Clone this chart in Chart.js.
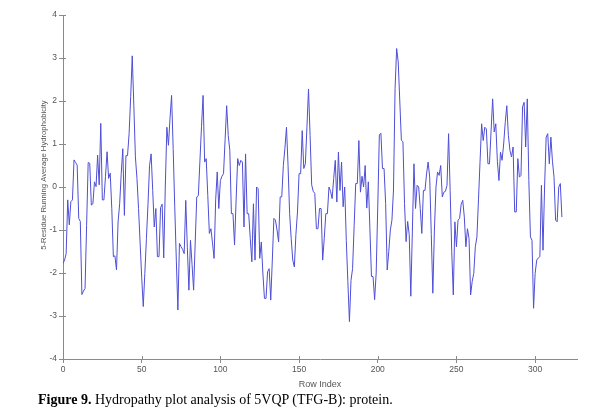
<!DOCTYPE html>
<html>
<head>
<meta charset="utf-8">
<script src="https://cdn.jsdelivr.net/npm/chart.js@4/dist/chart.umd.min.js"></script>
<style>
  body { margin: 0; background: #fff; }
  #wrap { position: relative; width: 605px; height: 418px; }
  #caption {
    position: absolute; left: 38px; top: 392px;
    font-family: "Liberation Serif", "Times New Roman", serif;
    font-size: 14px; line-height: 16px; color: #000; white-space: nowrap;
  }
</style>
</head>
<body>
<div id="wrap">
  <canvas id="hydro" width="605" height="418"></canvas>
  <div id="caption"><b>Figure 9.</b> Hydropathy plot analysis of 5VQP (TFG-B): protein.</div>
</div>
<script>
// data ======================================

// 5-residue running average, one value per row index (0..317)
const hydrophobicity = [
  -1.78, -1.70, -1.55, -0.30, -0.88, -0.34, -0.30, 0.63, 0.57, 0.51,
  -0.73, -0.80, -2.50, -2.42, -2.36, -0.90, 0.57, 0.55, -0.42, -0.39,
  0.12, 0.01, 0.74, 0.05, 1.48, -0.30, -0.30, 0.25, 0.82, 0.20,
  0.32, -0.50, -1.62, -1.60, -1.93, -0.81, -0.39, 0.31, 0.89, -0.66,
  0.73, 0.73, 1.24, 2.10, 3.05, 1.90, 0.70, 0.20, -0.50, -1.30,
  -2.10, -2.78, -2.01, -1.20, -0.40, 0.50, 0.77, -0.08, -0.93, -0.50,
  -1.62, -1.62, -0.48, -0.40, -1.65, 0.00, 1.39, 0.97, 1.60, 2.13,
  0.90, -0.46, -1.70, -2.86, -1.31, -1.39, -1.45, -1.55, -0.31, -1.40,
  -2.40, -1.24, -1.80, -2.40, -1.30, -0.23, -0.20, 0.60, 1.40, 2.13,
  0.58, 0.66, -0.20, -1.08, -0.97, -1.30, -1.66, -0.30, 0.35, -0.50,
  0.15, 0.25, 0.31, 1.10, 1.89, 1.20, 0.85, -0.62, -0.62, -1.35,
  -0.30, 0.66, 0.50, 0.62, 0.58, -0.93, 0.77, -0.62, -0.62, -1.20,
  -1.74, -0.39, -1.70, 0.00, -0.04, -1.66, -1.28, -2.00, -2.59, -2.59,
  -1.97, -1.90, -2.63, -1.70, -0.73, -0.77, -1.00, -1.28, -0.23, -0.23,
  0.50, 0.90, 1.39, 0.50, -0.62, -1.20, -1.70, -1.86, -1.10, -0.58,
  0.31, 0.31, 1.31, 0.43, 0.54, 1.40, 2.28, 1.20, 0.05, -0.10,
  -0.15, -0.97, -0.97, -0.50, -0.50, -1.70, -1.20, -0.62, -0.62, 0.00,
  -0.10, -0.27, 0.20, 0.62, -0.35, 0.81, -0.08, 0.58, -0.46, 0.00,
  -1.24, -2.20, -3.13, -2.17, -1.90, -0.90, 0.08, 0.08, 1.08, -0.12,
  0.25, 0.00, 0.50, -0.49, 0.12, -0.96, -2.08, -2.08, -2.62, -2.00,
  -0.46, 1.21, 1.25, 0.43, 0.43, -0.38, -1.93, -1.50, -1.00, -0.77,
  -0.07, 2.29, 3.22, 2.91, 2.00, 1.09, 1.05, -0.38, -1.27, -0.80,
  -1.11, -2.54, -1.00, 0.54, -0.50, 0.04, 0.00, -0.50, -1.08, -0.08,
  -0.08, 0.30, 0.58, 0.23, -1.10, -2.47, -1.00, 0.00, 0.35, 0.27,
  0.50, -0.23, -0.12, -0.10, 0.04, 1.24, -0.08, -1.50, -2.51, -0.81,
  -1.39, -0.77, -0.73, -0.40, -0.31, -0.70, -1.39, -0.97, -1.20, -2.51,
  -2.20, -2.01, -1.39, -1.16, -0.30, 0.60, 1.47, 1.08, 1.39, 1.35,
  0.54, 0.54, 1.30, 2.05, 1.28, 1.47, 0.60, 0.15, 0.81, 0.62,
  1.00, 1.50, 1.89, 1.20, 0.85, 0.70, 0.93, -0.58, -0.58, 0.66,
  0.23, 0.27, 1.86, 1.97, 0.93, 2.05, 0.15, -1.16, -1.24, -2.82,
  -2.01, -1.70, -1.65, -1.62, 0.04, -1.47, 0.00, 1.16, 1.24, 0.54,
  1.16, 0.60, 0.23, -0.77, -0.81, 0.00, 0.08, -0.70
];

const xTicks = [0, 50, 100, 150, 200, 250, 300];
const yTicks = [-4, -3, -2, -1, 0, 1, 2, 3, 4];

// chart =====================================

const axisGray = "#8a8a8a";
const labelFont = { family: "Liberation Sans", size: 8.5 };

const points = hydrophobicity.map((v, i) => ({ x: i, y: v }));

// small tick marks that also poke into the plot area + the y title
// (the original has its y title sitting a bit above the axis middle)
const axisExtras = {
  id: "axisExtras",
  afterDraw(chart) {
    const { ctx, chartArea, scales } = chart;
    ctx.save();
    ctx.strokeStyle = axisGray;
    ctx.lineWidth = 1;
    ctx.beginPath();
    xTicks.forEach((t) => {
      const px = Math.round(scales.x.getPixelForValue(t)) + 0.5;
      ctx.moveTo(px, chartArea.bottom);
      ctx.lineTo(px, chartArea.bottom - 3);
    });
    yTicks.forEach((t) => {
      const py = Math.round(scales.y.getPixelForValue(t)) + 0.5;
      ctx.moveTo(chartArea.left, py);
      ctx.lineTo(chartArea.left + 3, py);
    });
    ctx.stroke();

    ctx.translate(44, 175);
    ctx.rotate(-Math.PI / 2);
    ctx.font = "7.7px 'Liberation Sans'";
    ctx.fillStyle = "#555";
    ctx.textAlign = "center";
    ctx.textBaseline = "middle";
    ctx.fillText("5-Residue Running Average Hydrophobicity", 0, 0);
    ctx.restore();
  },
};

new Chart(document.getElementById("hydro"), {
  type: "line",
  data: {
    datasets: [
      {
        data: points,
        borderColor: "rgb(78, 78, 214)",
        borderWidth: 1,
        pointRadius: 0,
        tension: 0,
        fill: false,
      },
    ],
  },
  options: {
    responsive: false,
    animation: false,
    layout: { padding: { top: 15, right: 28, bottom: 24, left: 0 } },
    plugins: { legend: { display: false }, tooltip: { enabled: false } },
    scales: {
      x: {
        type: "linear",
        min: 0,
        max: 326.6,
        afterBuildTicks: (s) => { s.ticks = xTicks.map((v) => ({ value: v })); },
        afterFit: (s) => { s.height = 35; },
        grid: { drawOnChartArea: false, tickLength: 4, color: axisGray },
        border: { color: axisGray },
        ticks: { font: labelFont, color: "#555", padding: 2, maxRotation: 0 },
        title: {
          display: true,
          text: "Row Index",
          font: { family: "Liberation Sans", size: 9 },
          color: "#555",
          padding: { top: 0, bottom: 4 },
        },
      },
      y: {
        min: -4,
        max: 4,
        afterBuildTicks: (s) => { s.ticks = yTicks.map((v) => ({ value: v })); },
        afterFit: (s) => { s.width = 63; },
        grid: { drawOnChartArea: false, tickLength: 4, color: axisGray },
        border: { color: axisGray },
        ticks: { font: labelFont, color: "#555", padding: 2 },
      },
    },
  },
  plugins: [axisExtras],
});
</script>
</body>
</html>
